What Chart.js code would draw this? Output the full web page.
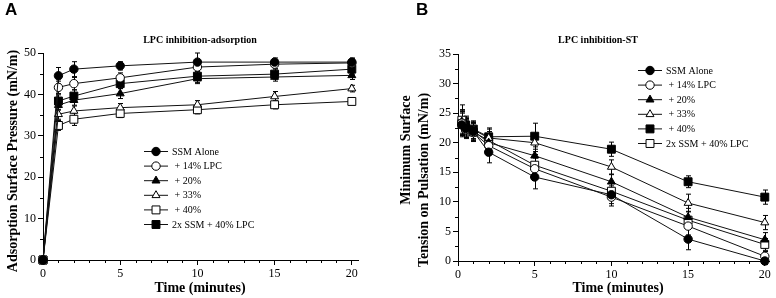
<!DOCTYPE html>
<html>
<head>
<meta charset="utf-8">
<script src="https://cdn.jsdelivr.net/npm/chart.js@4.4.1/dist/chart.umd.min.js"></script>
<style>
html,body{margin:0;padding:0;background:#fff;}
#wrap{position:relative;width:776px;height:298px;background:#fff;overflow:hidden;}
canvas{position:absolute;top:0;}
.lab{position:absolute;font:bold 17px "Liberation Sans",Arial,sans-serif;color:#000;}
</style>
</head>
<body>
<div id="wrap">
  <canvas id="ca" width="388" height="298" style="left:0"></canvas>
  <canvas id="cb" width="388" height="298" style="left:388px"></canvas>
  <div class="lab" style="left:5px;top:0px">A</div>
  <div class="lab" style="left:416px;top:0px">B</div>
</div>
<script>
// ---------- Data: Panel A (adsorption) ----------
const timesA = [0, 1, 2, 5, 10, 15, 20];
const ssmA    = [0, 44.5, 46.1, 46.9, 47.8, 47.8, 47.8];
const lpc14A  = [0, 41.7, 42.6, 44.0, 46.6, 47.3, 47.6];
const lpc20A  = [0, 37.4, 38.6, 40.2, 43.8, 44.2, 44.6];
const lpc33A  = [0, 35.2, 36.0, 36.8, 37.5, 39.5, 41.4];
const lpc40A  = [0, 32.5, 34.0, 35.4, 36.3, 37.5, 38.3];
const ssm2xA  = [0, 38.4, 39.6, 42.6, 44.4, 44.9, 46.1];
const errSsmA   = [0, 2.0, 1.8, 1.0, 2.2, 1.0, 1.0];
const err14A    = [0, 1.5, 1.5, 1.2, 1.0, 1.0, 1.0];
const err20A    = [0, 1.2, 1.2, 1.2, 1.2, 1.0, 1.0];
const err33A    = [0, 1.2, 1.2, 1.0, 1.0, 1.2, 0.8];
const err40A    = [0, 1.2, 1.5, 1.0, 1.0, 1.0, 0.6];
const err2xA    = [0, 1.5, 1.5, 1.2, 1.5, 1.2, 1.2];
const ticksXA = [0, 5, 10, 15, 20];
const ticksYA = [0, 10, 20, 30, 40, 50];

// ---------- Data: Panel B (minimum surface tension) ----------
const timesB = [0.25, 0.5, 1, 2, 5, 10, 15, 20];
const ssmB    = [23.0, 22.4, 21.9, 18.4, 14.2, 11.2, 3.7, 0.0];
const lpc14B  = [23.3, 22.2, 21.7, 19.5, 15.6, 10.8, 5.9, 0.8];
const lpc20B  = [23.4, 22.6, 22.0, 20.0, 17.8, 13.4, 7.4, 3.6];
const lpc33B  = [23.6, 22.8, 22.2, 20.8, 20.0, 15.9, 9.8, 6.5];
const lpc40B  = [23.2, 23.0, 22.3, 21.0, 21.1, 18.9, 13.4, 10.8];
const ssm2xB  = [23.8, 22.5, 21.8, 20.4, 16.2, 11.8, 6.9, 2.8];
const errSsmB = [2.0, 1.5, 1.5, 1.8, 2.0, 1.5, 1.8, 0.6];
const err14B  = [2.0, 1.5, 1.5, 1.5, 1.8, 1.5, 1.5, 0.8];
const err20B  = [2.0, 1.5, 1.5, 1.5, 1.5, 1.2, 1.5, 1.2];
const err33B  = [2.0, 1.5, 1.5, 1.5, 1.5, 1.2, 1.5, 1.2];
const err40B  = [2.0, 1.5, 1.2, 1.5, 2.2, 1.2, 1.0, 1.2];
const err2xB  = [2.6, 1.6, 1.5, 1.5, 1.8, 1.5, 1.5, 1.0];
const ticksXB = [0, 5, 10, 15, 20];
const ticksYB = [0, 5, 10, 15, 20, 25, 30, 35];

const labelsA = ['SSM Alone', ' + 14% LPC', ' + 20%', ' + 33%', ' + 40%', '2x SSM + 40% LPC'];
const labelsB = ['SSM Alone', ' + 14% LPC', ' + 20%', ' + 33%', ' + 40%', '2x SSM + 40% LPC'];

const SERIF = '"Liberation Serif","Times New Roman",serif';

function pts(xs, ys){ return xs.map((x,i)=>({x:x, y:ys[i]})); }
function ds(label, xs, ys, errs, style, filled, r){
  return {
    label, data: pts(xs, ys), errors: errs,
    borderColor:'#111', borderWidth:1, tension:0, fill:false, clip:false,
    pointStyle: style, pointRadius: r, pointHoverRadius: r,
    pointBackgroundColor: filled ? '#000' : '#fff',
    pointBorderColor:'#000', pointBorderWidth:1
  };
}

const decor = {
  id:'decor',
  beforeDatasetsDraw(chart, args, o){
    const ctx = chart.ctx, xs = chart.scales.x, ys = chart.scales.y;
    ctx.save(); ctx.strokeStyle = '#000'; ctx.lineWidth = 1;
    chart.data.datasets.forEach(d=>{
      if(!d.errors) return;
      d.data.forEach((p,j)=>{
        const e = d.errors[j]; if(!e) return;
        const x = Math.round(xs.getPixelForValue(p.x))+0.5;
        const y1 = ys.getPixelForValue(p.y + e), y2 = ys.getPixelForValue(p.y - e);
        ctx.beginPath();
        ctx.moveTo(x, y1); ctx.lineTo(x, y2);
        ctx.moveTo(x-2.5, y1); ctx.lineTo(x+2.5, y1);
        ctx.moveTo(x-2.5, y2); ctx.lineTo(x+2.5, y2);
        ctx.stroke();
      });
    });
    ctx.restore();
  },
  afterDraw(chart, args, o){
    const ctx = chart.ctx, xs = chart.scales.x, ys = chart.scales.y, a = chart.chartArea;
    ctx.save();
    // minor ticks
    ctx.strokeStyle = '#000'; ctx.lineWidth = 1;
    ctx.beginPath();
    for(let v = o.minorX; v < o.xMaxTick; v += o.minorX){
      if(Math.abs(v/o.majorX - Math.round(v/o.majorX)) < 1e-6) continue;
      const x = Math.round(xs.getPixelForValue(v))+0.5;
      ctx.moveTo(x, a.bottom); ctx.lineTo(x, a.bottom+3);
    }
    for(let v = o.minorY; v < o.yMaxTick; v += o.minorY){
      if(Math.abs(v/o.majorY - Math.round(v/o.majorY)) < 1e-6) continue;
      const y = Math.round(ys.getPixelForValue(v))+0.5;
      ctx.moveTo(a.left, y); ctx.lineTo(a.left-3, y);
    }
    ctx.stroke();
    // title
    ctx.fillStyle = '#000';
    ctx.font = 'bold 10px ' + SERIF;
    ctx.textAlign = 'center'; ctx.textBaseline = 'middle';
    ctx.fillText(o.title, o.titleX, o.titleY);
    // x title
    ctx.font = 'bold 14px ' + SERIF;
    ctx.fillText(o.xTitle, o.xTitleX, o.xTitleY);
    // y titles
    o.yTitles.forEach(t=>{
      ctx.save(); ctx.translate(t.x, t.y); ctx.rotate(-Math.PI/2);
      ctx.fillText(t.text, 0, 0); ctx.restore();
    });
    // legend
    ctx.font = '10px ' + SERIF; ctx.textAlign = 'left';
    chart.data.datasets.forEach((d,i)=>{
      const y = o.legY + i*o.legDy;
      ctx.strokeStyle = '#111'; ctx.lineWidth = 1;
      ctx.beginPath(); ctx.moveTo(o.legX, y+0.5); ctx.lineTo(o.legX+24, y+0.5); ctx.stroke();
      ctx.fillStyle = d.pointBackgroundColor; ctx.strokeStyle = '#000';
      Chart.helpers.drawPoint(ctx, {pointStyle:d.pointStyle, radius:d.pointRadius, borderWidth:1, rotation:0}, o.legX+12, y+0.5);
      ctx.fillStyle = '#000';
      ctx.fillText(d.label, o.legX+28, y+1);
    });
    ctx.restore();
  }
};

function axes(xMax, yMax, xTicks, yTicks, yW, xH){
  const tickFont = {family: SERIF, size: 12};
  return {
    x: { type:'linear', min:0, max:xMax,
      afterBuildTicks: s => { s.ticks = xTicks.map(v => ({value:v})); },
      ticks:{ color:'#000', font:tickFont, padding:2, maxRotation:0, autoSkip:false },
      grid:{ drawOnChartArea:false, drawTicks:true, tickLength:5, color:'#000' },
      border:{ display:true, color:'#000', width:1 },
      afterFit: s => { s.height = xH; }
    },
    y: { type:'linear', min:0, max:yMax,
      afterBuildTicks: s => { s.ticks = yTicks.map(v => ({value:v})); },
      ticks:{ color:'#000', font:tickFont, padding:2, autoSkip:false },
      grid:{ drawOnChartArea:false, drawTicks:true, tickLength:5, color:'#000' },
      border:{ display:true, color:'#000', width:1 },
      afterFit: s => { s.width = yW; }
    }
  };
}

new Chart(document.getElementById('ca'), {
  type:'line',
  data:{ datasets:[
    ds(labelsA[0], timesA, ssmA, errSsmA, 'circle', true, 4.2),
    ds(labelsA[1], timesA, lpc14A, err14A, 'circle', false, 4.2),
    ds(labelsA[2], timesA, lpc20A, err20A, 'triangle', true, 4.6),
    ds(labelsA[3], timesA, lpc33A, err33A, 'triangle', false, 4.6),
    ds(labelsA[4], timesA, lpc40A, err40A, 'rect', false, 5.6),
    ds(labelsA[5], timesA, ssm2xA, err2xA, 'rect', true, 5.6)
  ]},
  options:{
    responsive:false, animation:false, events:[],
    layout:{ padding:{ left:0, top:53, right:30, bottom:0 } },
    scales: axes(20.4, 50, ticksXA, ticksYA, 43, 38),
    plugins:{ legend:{display:false}, tooltip:{enabled:false},
      decor:{ title:'LPC inhibition-adsorption', titleX:200, titleY:40,
        xTitle:'Time (minutes)', xTitleX:200, xTitleY:288,
        yTitles:[{text:'Adsorption Surface Pressure (mN/m)', x:13, y:161}],
        legX:144, legY:151, legDy:14.6,
        minorX:1, majorX:5, xMaxTick:20, minorY:5, majorY:10, yMaxTick:50 } }
  },
  plugins:[decor]
});

new Chart(document.getElementById('cb'), {
  type:'line',
  data:{ datasets:[
    ds(labelsB[0], timesB, ssmB, errSsmB, 'circle', true, 4.2),
    ds(labelsB[1], timesB, lpc14B, err14B, 'circle', false, 4.2),
    ds(labelsB[2], timesB, lpc20B, err20B, 'triangle', true, 4.6),
    ds(labelsB[3], timesB, lpc33B, err33B, 'triangle', false, 4.6),
    ds(labelsB[4], timesB, lpc40B, err40B, 'rect', true, 5.6),
    ds(labelsB[5], timesB, ssm2xB, err2xB, 'rect', false, 5.6)
  ]},
  options:{
    responsive:false, animation:false, events:[],
    layout:{ padding:{ left:0, top:54, right:3, bottom:0 } },
    scales: axes(20.3, 35, ticksXB, ticksYB, 70, 37),
    plugins:{ legend:{display:false}, tooltip:{enabled:false},
      decor:{ title:'LPC inhibition-ST', titleX:210, titleY:40,
        xTitle:'Time (minutes)', xTitleX:230, xTitleY:288,
        yTitles:[{text:'Minimum Surface', x:18, y:150},{text:'Tension on Pulsation (mN/m)', x:36, y:180}],
        legX:250, legY:70, legDy:14.6,
        minorX:1, majorX:5, xMaxTick:20, minorY:2.5, majorY:5, yMaxTick:35 } }
  },
  plugins:[decor]
});
</script>
</body>
</html>
